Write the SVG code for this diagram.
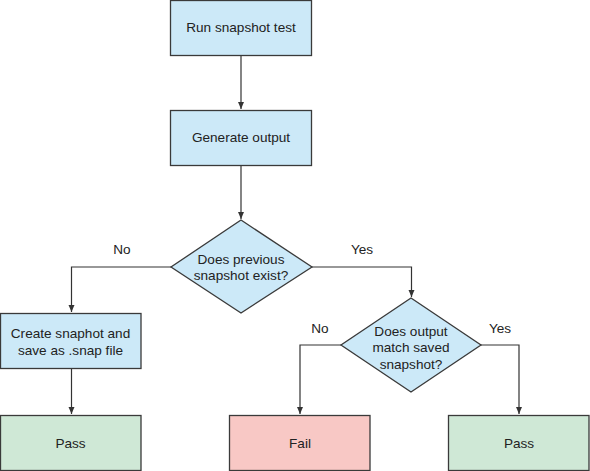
<svg xmlns="http://www.w3.org/2000/svg" width="590" height="471" viewBox="0 0 590 471">
<defs>
<marker id="ah" markerWidth="8" markerHeight="8" refX="7" refY="4" orient="auto" markerUnits="userSpaceOnUse">
<path d="M0,1 L7,4 L0,7 Z" fill="#333"/>
</marker>
<style>
.blue{fill:#cce9f8;stroke:#3a3a3a;stroke-width:1.3}
.green{fill:#cfe8d6;stroke:#3a3a3a;stroke-width:1.3}
.red{fill:#f8c8c5;stroke:#3a3a3a;stroke-width:1.3}
text{font-family:"Liberation Sans",Arial,sans-serif;font-size:13.6px;fill:#222;text-anchor:middle;dominant-baseline:central}
.edge{fill:none;stroke:#333;stroke-width:1.2;marker-end:url(#ah)}
</style>
</defs>
<rect width="590" height="471" fill="#fff"/>
<g id="connectors">
<path class="edge" d="M241,55 V109"/>
<path class="edge" d="M241,165 V219"/>
<path class="edge" d="M171,267 H71.5 V312"/>
<path class="edge" d="M312,267 H411.5 V297"/>
<path class="edge" d="M71.5,368 V414"/>
<path class="edge" d="M341,345 H300 V414"/>
<path class="edge" d="M481,345 H519 V414"/>
<text x="122" y="249">No</text>
<text x="362" y="249">Yes</text>
<text x="320" y="328">No</text>
<text x="500" y="328">Yes</text>
</g>
<g id="run">
<rect class="blue" x="170.5" y="0.5" width="141" height="55"/>
<text x="241" y="27">Run snapshot test</text>
</g>
<g id="generate">
<rect class="blue" x="170.5" y="110.5" width="141" height="55"/>
<text x="241" y="137">Generate output</text>
</g>
<g id="exists">
<polygon class="blue" points="241,220 312,267 241,313 171,267"/>
<text x="241" y="259">Does previous</text>
<text x="241" y="275">snapshot exist?</text>
</g>
<g id="create">
<rect class="blue" x="0.5" y="313.5" width="140.5" height="55"/>
<text x="70.5" y="333">Create snaphot and</text>
<text x="70.5" y="350">save as .snap file</text>
</g>
<g id="match">
<polygon class="blue" points="411,298 481,345 411,392 341,345"/>
<text x="411" y="331">Does output</text>
<text x="411" y="347">match saved</text>
<text x="411" y="364">snapshot?</text>
</g>
<g id="pass1">
<rect class="green" x="0.5" y="415.5" width="140.5" height="55"/>
<text x="70.5" y="443">Pass</text>
</g>
<g id="fail">
<rect class="red" x="229.5" y="415.5" width="140.5" height="55"/>
<text x="300" y="443">Fail</text>
</g>
<g id="pass2">
<rect class="green" x="448.5" y="415.5" width="140.5" height="55"/>
<text x="519" y="443">Pass</text>
</g>
</svg>
